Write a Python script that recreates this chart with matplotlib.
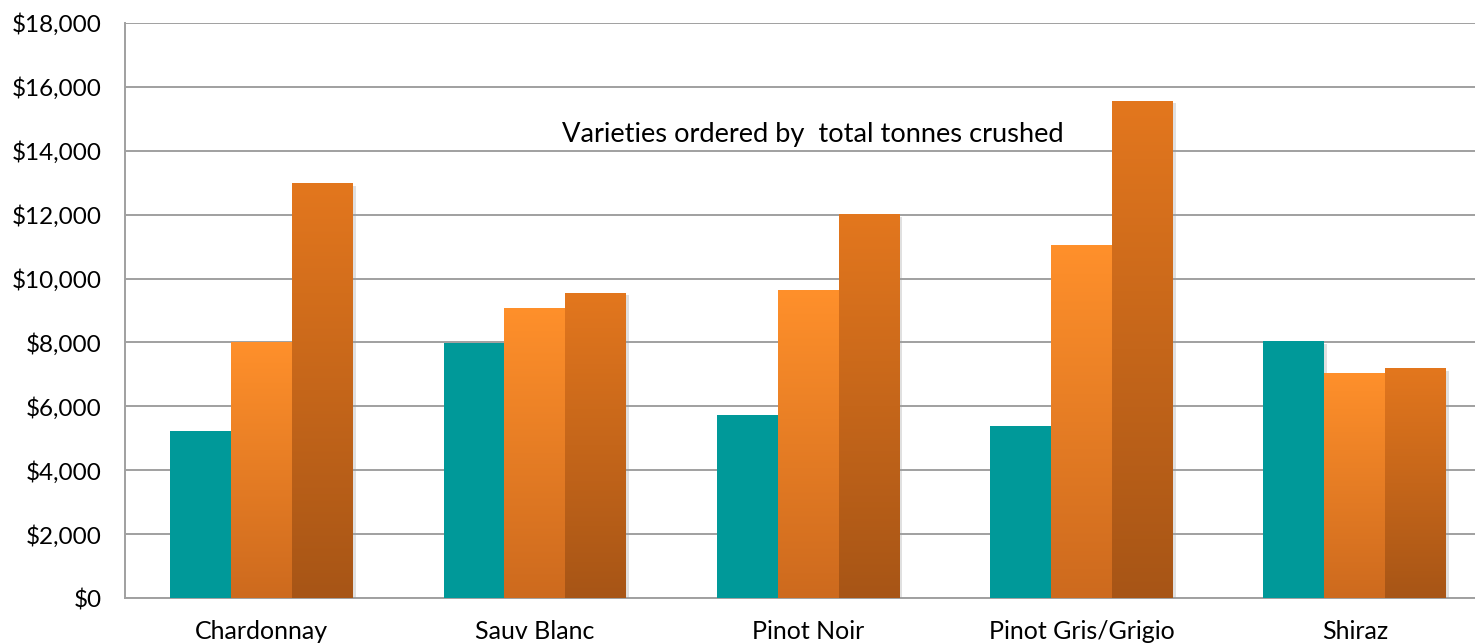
import numpy as np
import matplotlib
matplotlib.use('Agg')
import matplotlib.pyplot as plt
import matplotlib.patheffects as pe
from matplotlib.colors import LinearSegmentedColormap
from matplotlib.ticker import FuncFormatter

plt.rcParams['font.family'] = ['Lato', 'DejaVu Sans']

varieties = ['Chardonnay', 'Sauv Blanc', 'Pinot Noir', 'Pinot Gris/Grigio', 'Shiraz']
series_a = [5230, 7980, 5720, 5390, 8050]
series_b = [8010, 9080, 9650, 11050, 7040]
series_c = [13000, 9560, 12020, 15570, 7200]
y_ticks = list(range(0, 18001, 2000))

W, H = 1475, 644
fig = plt.figure(figsize=(W / 100, H / 100), dpi=100)
ax = fig.add_axes([125 / W, 46 / H, 1 - 125 / W, 575 / H])

x = np.arange(len(varieties))
bw = 0.223
teal = ax.bar(x - bw, series_a, bw, color='#009999', zorder=3)
light = ax.bar(x, series_b, bw, color='#F28A2A', zorder=3)
dark = ax.bar(x + bw, series_c, bw, color='#C9661C', zorder=3)

shadow = [pe.SimplePatchShadow(offset=(2, -2), shadow_rgbFace='#999999', alpha=0.3), pe.Normal()]
for bars in (teal, light, dark):
    for p in bars:
        p.set_path_effects(shadow)

# vertical gradients for the orange bars
cm_light = LinearSegmentedColormap.from_list('l', ['#CD6A1E', '#FF902B'])
cm_dark = LinearSegmentedColormap.from_list('d', ['#A75516', '#E3771E'])
grad = np.linspace(0, 1, 256).reshape(-1, 1)
for bars, cm in ((light, cm_light), (dark, cm_dark)):
    for p in bars:
        x0, y0 = p.get_x(), p.get_y()
        im = ax.imshow(grad, cmap=cm, origin='lower', aspect='auto',
                       extent=(x0, x0 + p.get_width(), y0, y0 + p.get_height()), zorder=4)
        im.set_clip_path(p)

ax.set_xlim(-0.5, -0.5 + (W - 125) / 273.3)
ax.set_ylim(0, 18000)
ax.set_yticks(y_ticks)
ax.yaxis.set_major_formatter(FuncFormatter(lambda v, _: '${:,.0f}'.format(v)))
ax.set_xticks(x)
ax.set_xticklabels(varieties)
ax.tick_params(axis='both', length=0, colors='black')
ax.tick_params(axis='x', pad=16, labelsize=18)
ax.tick_params(axis='y', pad=17, labelsize=17.5)
ax.grid(axis='y', color='#A0A0A0', linewidth=1.4, zorder=0)
for s in ('top', 'right'):
    ax.spines[s].set_visible(False)
for s in ('left', 'bottom'):
    ax.spines[s].set_color('#A0A0A0')
    ax.spines[s].set_linewidth(1.4)

ax.text(2.017, 14500, 'Varieties ordered by  total tonnes crushed', ha='center', va='center',
        fontsize=19.6, zorder=5)

fig.savefig('out.png', dpi=100)
